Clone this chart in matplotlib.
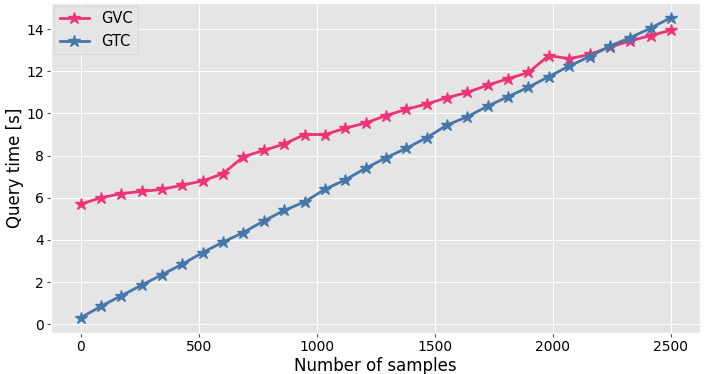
import numpy as np
import matplotlib
matplotlib.use("Agg")
import matplotlib.pyplot as plt

plt.style.use("ggplot")

samples = np.linspace(0, 2500, 30)
gvc = [5.7, 6.0, 6.2, 6.3, 6.4, 6.6, 6.8, 7.15, 7.95, 8.25,
       8.55, 9.0, 9.0, 9.3, 9.55, 9.9, 10.2, 10.45, 10.75, 11.0,
       11.35, 11.65, 11.95, 12.75, 12.6, 12.8, 13.15, 13.45, 13.7, 13.95]
gtc = [0.3, 0.85, 1.35, 1.85, 2.35, 2.85, 3.4, 3.9, 4.35, 4.9,
       5.4, 5.8, 6.4, 6.85, 7.4, 7.9, 8.35, 8.85, 9.45, 9.85,
       10.35, 10.8, 11.25, 11.75, 12.25, 12.7, 13.2, 13.6, 14.05, 14.55]

fig, ax = plt.subplots(figsize=(7.09, 3.74), dpi=100)
ax.plot(samples, gvc, color="#EE3377", marker="*", ms=9, lw=2, label="GVC")
ax.plot(samples, gtc, color="#4477AA", marker="*", ms=9, lw=2, label="GTC")
ax.set_xlabel("Number of samples", fontsize=12, color="black", labelpad=2)
ax.set_ylabel("Query time [s]", fontsize=12, color="black", labelpad=2)
ax.tick_params(labelsize=10, labelcolor="black", color="#555555",
               length=3, width=0.8, pad=2)
ax.legend(loc="upper left", fontsize=10.5, borderaxespad=0.2)
fig.subplots_adjust(left=0.072, right=0.988, top=0.993, bottom=0.11)
fig.savefig("out.png", dpi=100)
